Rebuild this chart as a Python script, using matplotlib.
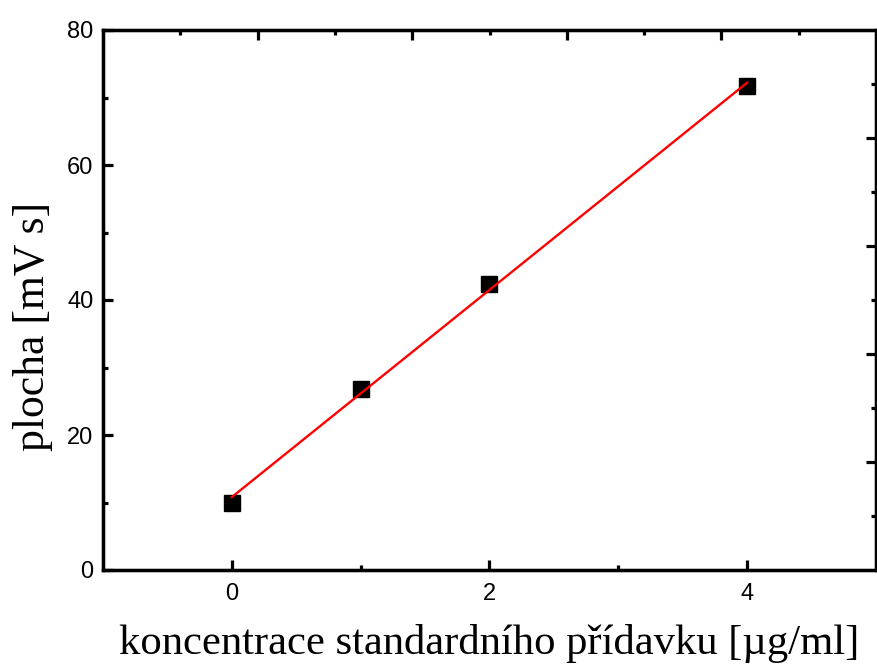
import matplotlib
matplotlib.use("Agg")
import matplotlib.pyplot as plt

# Measured points (standard addition)
konc = [0, 1, 2, 4]
plocha = [10.0, 26.8, 42.3, 71.7]
# Linear fit line endpoints
fit_x = [0, 4]
fit_y = [10.8, 72.2]

x_ticks = [0, 2, 4]
y_ticks = [0, 20, 40, 60, 80]

fig = plt.figure(figsize=(8.77, 6.65), dpi=100)
ax = fig.add_axes([103 / 877, 1 - 570 / 665, 773 / 877, 540 / 665])

ax.plot(konc, plocha, 's', color='black', markersize=11.5, zorder=2)
ax.plot(fit_x, fit_y, '-', color='red', linewidth=1.7, zorder=3)

ax.set_xlim(-1, 5)
ax.set_ylim(0, 80)
ax.set_xticks(x_ticks)
ax.set_xticks([1, 3], minor=True)
ax.set_yticks(y_ticks)
ax.set_yticks([10, 30, 50, 70], minor=True)

for lab in ax.get_xticklabels() + ax.get_yticklabels():
    lab.set_fontfamily('Liberation Sans')
    lab.set_fontsize(17)

ax.tick_params(which='major', direction='in', length=7, width=2.3)
ax.tick_params(which='minor', direction='in', length=3.5, width=2.3)
ax.tick_params(axis='x', pad=9)
ax.tick_params(axis='y', pad=7)
for s in ax.spines.values():
    s.set_linewidth(2.3)

# top / right axes in Origin have their own 0-10 scale
top = ax.twiny()
top.set_xlim(0, 10)
top.set_xticks([2, 4, 6, 8])
top.set_xticks([1, 3, 5, 7, 9], minor=True)
top.tick_params(which='major', direction='in', length=7, width=2.3, labeltop=False)
top.tick_params(which='minor', direction='in', length=3.5, width=2.3)

right = ax.twinx()
right.set_ylim(0, 10)
right.set_yticks([2, 4, 6, 8])
right.set_yticks([1, 3, 5, 7, 9], minor=True)
right.tick_params(which='major', direction='in', length=7, width=2.3, labelright=False)
right.tick_params(which='minor', direction='in', length=3.5, width=2.3)
for a in (top, right):
    for s in a.spines.values():
        s.set_linewidth(2.3)

ax.set_xlabel('koncentrace standardního přídavku [µg/ml]',
              fontfamily='Liberation Serif', fontsize=30.7, va='top')
ax.xaxis.set_label_coords(0.5, -0.1)
ax.set_ylabel('plocha [mV s]', fontfamily='Liberation Serif', fontsize=31.5)
ax.yaxis.set_label_coords(-0.065, 0.451)

fig.savefig('out.png', dpi=100)
